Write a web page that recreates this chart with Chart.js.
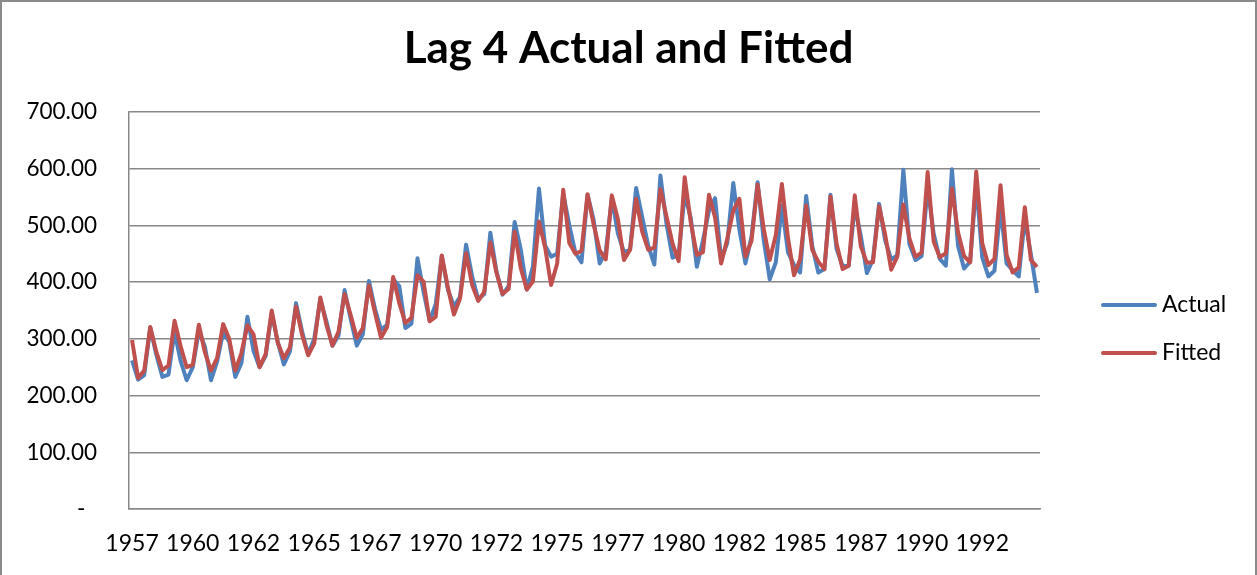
<!DOCTYPE html>
<html>
<head>
<meta charset="utf-8">
<script src="https://cdn.jsdelivr.net/npm/chart.js@4.4.1/dist/chart.umd.min.js"></script>
<style>
  html, body { margin: 0; padding: 0; background: #fff; }
  #wrap { position: relative; width: 1257px; height: 575px; }
  #c { position: absolute; left: 0; top: 0; }
  #frame { position: absolute; left: 0; top: 0; width: 1257px; height: 575px; box-sizing: border-box;
           border-left: 2px solid #8a8a8a; border-top: 2px solid #8a8a8a; border-right: 2px solid #8a8a8a; pointer-events: none; }
</style>
</head>
<body>
<div id="wrap">
  <canvas id="c" width="1257" height="575"></canvas>
  <div id="frame"></div>
</div>
<script>
// Quarterly series, 1957 Q1 .. 1994 Q2
const firstYear = 1957;
const actual = [
  262,228,236,320, 272,233,237,313, 261,227,250,314, 286,227,260,311,
  295,233,257,339, 279,250,270,346, 294,255,278,363, 313,273,300,370,
  331,288,306,386, 335,288,308,402, 353,316,325,405, 393,319,327,442,
  383,332,361,446, 387,357,374,466, 410,370,379,487, 419,378,393,506,
  458,387,427,565, 465,445,450,556, 500,452,435,554, 510,433,453,548,
  486,453,457,566, 515,464,431,588, 503,443,448,555, 513,427,473,526,
  548,440,469,575, 493,433,480,576, 475,405,435,535, 453,430,417,552,
  464,417,423,554, 459,428,429,534, 481,416,440,538, 474,440,447,598,
  467,439,446,567, 485,441,429,599, 464,424,436,574, 443,410,420,532,
  433,421,410,512, 449,381
];
const fitted = [
  298,231,244,321, 277,245,253,332, 287,250,254,325, 276,244,266,326,
  300,244,275,324, 308,250,273,350, 293,266,285,357, 307,271,292,373,
  325,288,313,379, 342,302,319,394, 346,302,321,409, 363,328,337,412,
  401,331,339,447, 391,343,371,451, 395,367,383,470, 417,379,388,489,
  425,387,401,507, 462,395,433,563, 469,450,455,555, 502,456,440,553,
  511,439,457,547, 489,457,461,564, 516,468,437,585, 505,448,453,554,
  514,433,476,526, 547,445,473,572, 495,439,483,573, 478,412,440,535,
  457,436,423,551, 468,423,429,553, 463,434,435,534, 484,422,445,537,
  477,445,452,594, 471,444,451,565, 488,446,435,595, 468,430,441,571,
  448,417,426,532, 439,427
];
const seriesNames = ['Actual', 'Fitted'];
const chartTitle = 'Lag 4 Actual and Fitted';
const xTickLabels = ['1957','1960','1962','1965','1967','1970','1972','1975','1977','1980','1982','1985','1987','1990','1992'];
const yTicks = [0, 100, 200, 300, 400, 500, 600, 700];

const categories = actual.map((_, i) => (firstYear + Math.floor(i / 4)) + ' Q' + (i % 4 + 1));

const BLUE = '#4F81BD', RED = '#C0504D', GRID = '#888888';
const FONT = 'Lato';

const decorPlugin = {
  id: 'excelDecor',
  afterDraw(chart) {
    const ctx = chart.ctx, a = chart.chartArea;
    ctx.save();
    // title
    ctx.font = 'bold 44px ' + FONT;
    ctx.fillStyle = '#000';
    ctx.textAlign = 'center';
    ctx.textBaseline = 'alphabetic';
    ctx.fillText(chartTitle, chart.width / 2, 63);
    // legend
    const items = [[seriesNames[0], BLUE], [seriesNames[1], RED]];
    ctx.font = '23px ' + FONT;
    ctx.textBaseline = 'middle';
    ctx.textAlign = 'left';
    items.forEach((it, k) => {
      const y = a.top + 193 + k * 48;
      const x0 = a.right + 63;
      ctx.strokeStyle = it[1];
      ctx.lineWidth = 4;
      ctx.lineCap = 'round';
      ctx.beginPath();
      ctx.moveTo(x0, y);
      ctx.lineTo(x0 + 52, y);
      ctx.stroke();
      ctx.fillStyle = '#000';
      ctx.fillText(it[0], x0 + 59, y);
    });
    ctx.restore();
  }
};

new Chart(document.getElementById('c'), {
  type: 'line',
  data: {
    labels: categories,
    datasets: [
      { label: seriesNames[0], data: actual, borderColor: BLUE, backgroundColor: BLUE, borderWidth: 4,
        pointRadius: 0, tension: 0, borderJoinStyle: 'round', order: 1 },
      { label: seriesNames[1], data: fitted, borderColor: RED, backgroundColor: RED, borderWidth: 4,
        pointRadius: 0, tension: 0, borderJoinStyle: 'round', order: 0 }
    ]
  },
  options: {
    responsive: false,
    animation: false,
    events: [],
    layout: { padding: { left: 0, right: 217, top: 112, bottom: 0 } },
    plugins: {
      legend: { display: false },
      tooltip: { enabled: false },
      title: { display: false }
    },
    scales: {
      x: {
        type: 'category',
        offset: true,
        afterFit: (s) => { s.height = 66; },
        grid: { display: false, drawTicks: false },
        border: { display: true, color: GRID, width: 1.5 },
        ticks: {
          autoSkip: false, maxRotation: 0, minRotation: 0, padding: 21,
          color: '#000', font: { family: FONT, size: 23 },
          callback: (v, i) => (i % 10 === 0 ? xTickLabels[i / 10] : null)
        }
      },
      y: {
        min: yTicks[0], max: yTicks[yTicks.length - 1],
        afterFit: (s) => { s.width = 129; },
        afterBuildTicks: (s) => { s.ticks = yTicks.map(v => ({ value: v })); },
        grid: { color: GRID, lineWidth: 1.5, drawTicks: false },
        border: { display: true, color: GRID, width: 1.5 },
        ticks: {
          padding: 32, color: '#000', font: { family: FONT, size: 22.5 },
          callback: (v) => (v === 0 ? '-  ' : Number(v).toFixed(2))
        }
      }
    }
  },
  plugins: [decorPlugin]
});
</script>
</body>
</html>
